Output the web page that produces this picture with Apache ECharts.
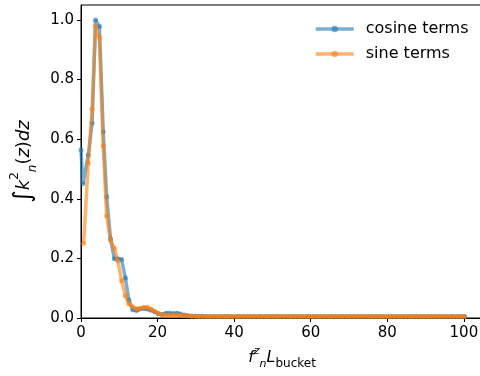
<!DOCTYPE html>
<html>
<head>
<meta charset="utf-8">
<script src="https://cdn.jsdelivr.net/npm/echarts@6/dist/echarts.min.js"></script>
<style>
  html, body { margin: 0; padding: 0; background: #fff; }
  #chart { width: 480px; height: 376px; }
</style>
</head>
<body>
<div id="chart"></div>
<script>
// 前几个点的 x 不在公共网格上
var cosHeadX = [0, 0.5];
var cosHeadY = [0.564, 0.45];
var sinHeadX = [0.7];
var sinHeadY = [0.25];

// 公共的 x 网格 (f_n^z L_bucket)
var gridX = [1.9, 2.9, 3.8, 4.8, 5.8, 6.7, 7.7, 8.7, 9.6, 10.6, 11.6, 12.5, 13.5, 14.5, 15.4, 16.4, 17.3, 18.3, 19.3, 20.2,
  21.2, 22.2, 23.1, 24.1, 25.1, 26.0, 27.0, 27.9, 28.9, 29.9, 30.8, 31.8, 32.8, 33.7, 34.7, 35.7, 36.6, 37.6, 38.5, 39.5,
  40.5, 41.4, 42.4, 43.4, 44.3, 45.3, 46.3, 47.2, 48.2, 49.1, 50.1, 51.1, 52.0, 53.0, 54.0, 54.9, 55.9, 56.9, 57.8, 58.8,
  59.7, 60.7, 61.7, 62.6, 63.6, 64.6, 65.5, 66.5, 67.5, 68.4, 69.4, 70.3, 71.3, 72.3, 73.2, 74.2, 75.2, 76.1, 77.1, 78.1,
  79.0, 80.0, 80.9, 81.9, 82.9, 83.8, 84.8, 85.8, 86.7, 87.7, 88.7, 89.6, 90.6, 91.5, 92.5, 93.5, 94.4, 95.4, 96.4, 97.3,
  98.3, 99.3, 100.2];

var cosY = [0.547, 0.653, 1.0, 0.978, 0.625, 0.407, 0.266, 0.199, 0.199, 0.196, 0.134, 0.06, 0.028, 0.025, 0.03, 0.032, 0.03, 0.026, 0.02, 0.014,
  0.012, 0.016, 0.016, 0.015, 0.016, 0.013, 0.01, 0.008, 0.007, 0.006, 0.006, 0.006, 0.005, 0.005, 0.005, 0.005, 0.005, 0.005, 0.005, 0.005,
  0.005, 0.005, 0.005, 0.005, 0.005, 0.005, 0.005, 0.005, 0.005, 0.005, 0.005, 0.005, 0.005, 0.005, 0.005, 0.005, 0.005, 0.005, 0.005, 0.005,
  0.005, 0.005, 0.005, 0.005, 0.005, 0.005, 0.005, 0.005, 0.005, 0.005, 0.005, 0.005, 0.005, 0.005, 0.005, 0.005, 0.005, 0.005, 0.005, 0.005,
  0.005, 0.005, 0.005, 0.005, 0.005, 0.005, 0.005, 0.005, 0.005, 0.005, 0.005, 0.005, 0.005, 0.005, 0.005, 0.005, 0.005, 0.005, 0.005, 0.005,
  0.005, 0.005, 0.005];

var sinY = [0.52, 0.70, 0.98, 0.942, 0.577, 0.342, 0.262, 0.234, 0.192, 0.125, 0.074, 0.047, 0.038, 0.03, 0.032, 0.035, 0.036, 0.03, 0.022, 0.016,
  0.012, 0.01, 0.01, 0.011, 0.01, 0.01, 0.008, 0.007, 0.006, 0.006, 0.005, 0.005, 0.005, 0.005, 0.005, 0.005, 0.005, 0.005, 0.005, 0.005,
  0.005, 0.005, 0.005, 0.005, 0.005, 0.005, 0.005, 0.005, 0.005, 0.005, 0.005, 0.005, 0.005, 0.005, 0.005, 0.005, 0.005, 0.005, 0.005, 0.005,
  0.005, 0.005, 0.005, 0.005, 0.005, 0.005, 0.005, 0.005, 0.005, 0.005, 0.005, 0.005, 0.005, 0.005, 0.005, 0.005, 0.005, 0.005, 0.005, 0.005,
  0.005, 0.005, 0.005, 0.005, 0.005, 0.005, 0.005, 0.005, 0.005, 0.005, 0.005, 0.005, 0.005, 0.005, 0.005, 0.005, 0.005, 0.005, 0.005, 0.005,
  0.005, 0.005, 0.005];

var xTicks = [0, 20, 40, 60, 80, 100];
var yTicks = [0, 0.2, 0.4, 0.6, 0.8, 1.0];

function pairs(xs, ys) {
  var out = [];
  for (var i = 0; i < xs.length; i++) {
    out.push([xs[i], ys[i]]);
  }
  return out;
}

var cosData = pairs(cosHeadX, cosHeadY).concat(pairs(gridX, cosY));
var sinData = pairs(sinHeadX, sinHeadY).concat(pairs(gridX, sinY));

var font = 'DejaVu Sans';
// x 轴标题
var xRich = {
  it: { fontFamily: font, fontStyle: 'italic', fontSize: 16, lineHeight: 24, verticalAlign: 'middle', color: '#000' },
  sup: { fontFamily: font, fontStyle: 'italic', fontSize: 11, lineHeight: 24, verticalAlign: 'top', color: '#000' },
  sub: { fontFamily: font, fontStyle: 'italic', fontSize: 11, lineHeight: 24, verticalAlign: 'bottom', color: '#000' },
  subrm: { fontFamily: font, fontSize: 12, lineHeight: 24, verticalAlign: 'bottom', color: '#000' }
};
// y 轴标题，积分号更大
var yRich = {
  big: { fontFamily: font, fontSize: 24, lineHeight: 30, verticalAlign: 'middle', color: '#000' },
  it: { fontFamily: font, fontStyle: 'italic', fontSize: 18, lineHeight: 30, verticalAlign: 'middle', color: '#000' },
  rm: { fontFamily: font, fontSize: 18, lineHeight: 30, verticalAlign: 'middle', color: '#000' },
  sup: { fontFamily: font, fontSize: 12, lineHeight: 30, verticalAlign: 'top', color: '#000' },
  sub: { fontFamily: font, fontStyle: 'italic', fontSize: 12, lineHeight: 30, verticalAlign: 'bottom', color: '#000' }
};

var chart = echarts.init(document.getElementById('chart'), null, { renderer: 'canvas' });

var option = {
  animation: false,
  backgroundColor: '#fff',
  grid: {
    left: 81,
    top: 5,
    right: -3,
    bottom: 58,
    show: true,
    borderColor: '#000',
    borderWidth: 1,
    containLabel: false,
    outerBoundsMode: 'none'
  },
  legend: {
    orient: 'vertical',
    left: 309,
    top: 16,
    itemWidth: 38,
    itemHeight: 8,
    itemGap: 9,
    lineStyle: { width: 3.5 },
    textStyle: { fontFamily: font, fontSize: 16, color: '#000', padding: [0, 0, 0, 7] },
    data: ['cosine terms', 'sine terms']
  },
  xAxis: {
    type: 'value',
    min: 0,
    max: 105,
    interval: 20,
    splitLine: { show: false },
    axisLine: { lineStyle: { color: '#000', width: 1 } },
    axisTick: { show: true, length: 4, lineStyle: { color: '#000' }, customValues: xTicks },
    axisLabel: { fontFamily: font, fontSize: 15, color: '#000', margin: 8, customValues: xTicks },
    name: '{it|f}{sup|z}{sub|n}{it|L}{subrm|bucket}',
    nameLocation: 'middle',
    nameGap: 23,
    nameTextStyle: { rich: xRich }
  },
  yAxis: {
    type: 'value',
    min: 0,
    max: 1.05,
    interval: 0.2,
    splitLine: { show: false },
    axisLine: { lineStyle: { color: '#000', width: 1 } },
    axisTick: { show: true, length: 4, lineStyle: { color: '#000' }, customValues: yTicks },
    axisLabel: {
      fontFamily: font, fontSize: 15, color: '#000', margin: 7, customValues: yTicks,
      formatter: function (v) { return v.toFixed(1); }
    },
    name: '{big|∫}{it|k}{sup|2}{sub|n}{rm|(}{it|z}{rm|)}{it|dz}',
    nameLocation: 'middle',
    nameRotate: 90,
    nameGap: 42,
    nameTextStyle: { rich: yRich }
  },
  series: [
    {
      name: 'cosine terms',
      type: 'line',
      data: cosData,
      symbol: 'circle',
      symbolSize: 5,
      showSymbol: true,
      color: '#1f77b4',
      lineStyle: { width: 3.5, opacity: 0.6 },
      itemStyle: { opacity: 0.6 },
      z: 2
    },
    {
      name: 'sine terms',
      type: 'line',
      data: sinData,
      symbol: 'circle',
      symbolSize: 5,
      showSymbol: true,
      color: '#ff7f0e',
      lineStyle: { width: 3.5, opacity: 0.6 },
      itemStyle: { opacity: 0.6 },
      z: 3
    }
  ]
};

chart.setOption(option);
</script>
</body>
</html>
